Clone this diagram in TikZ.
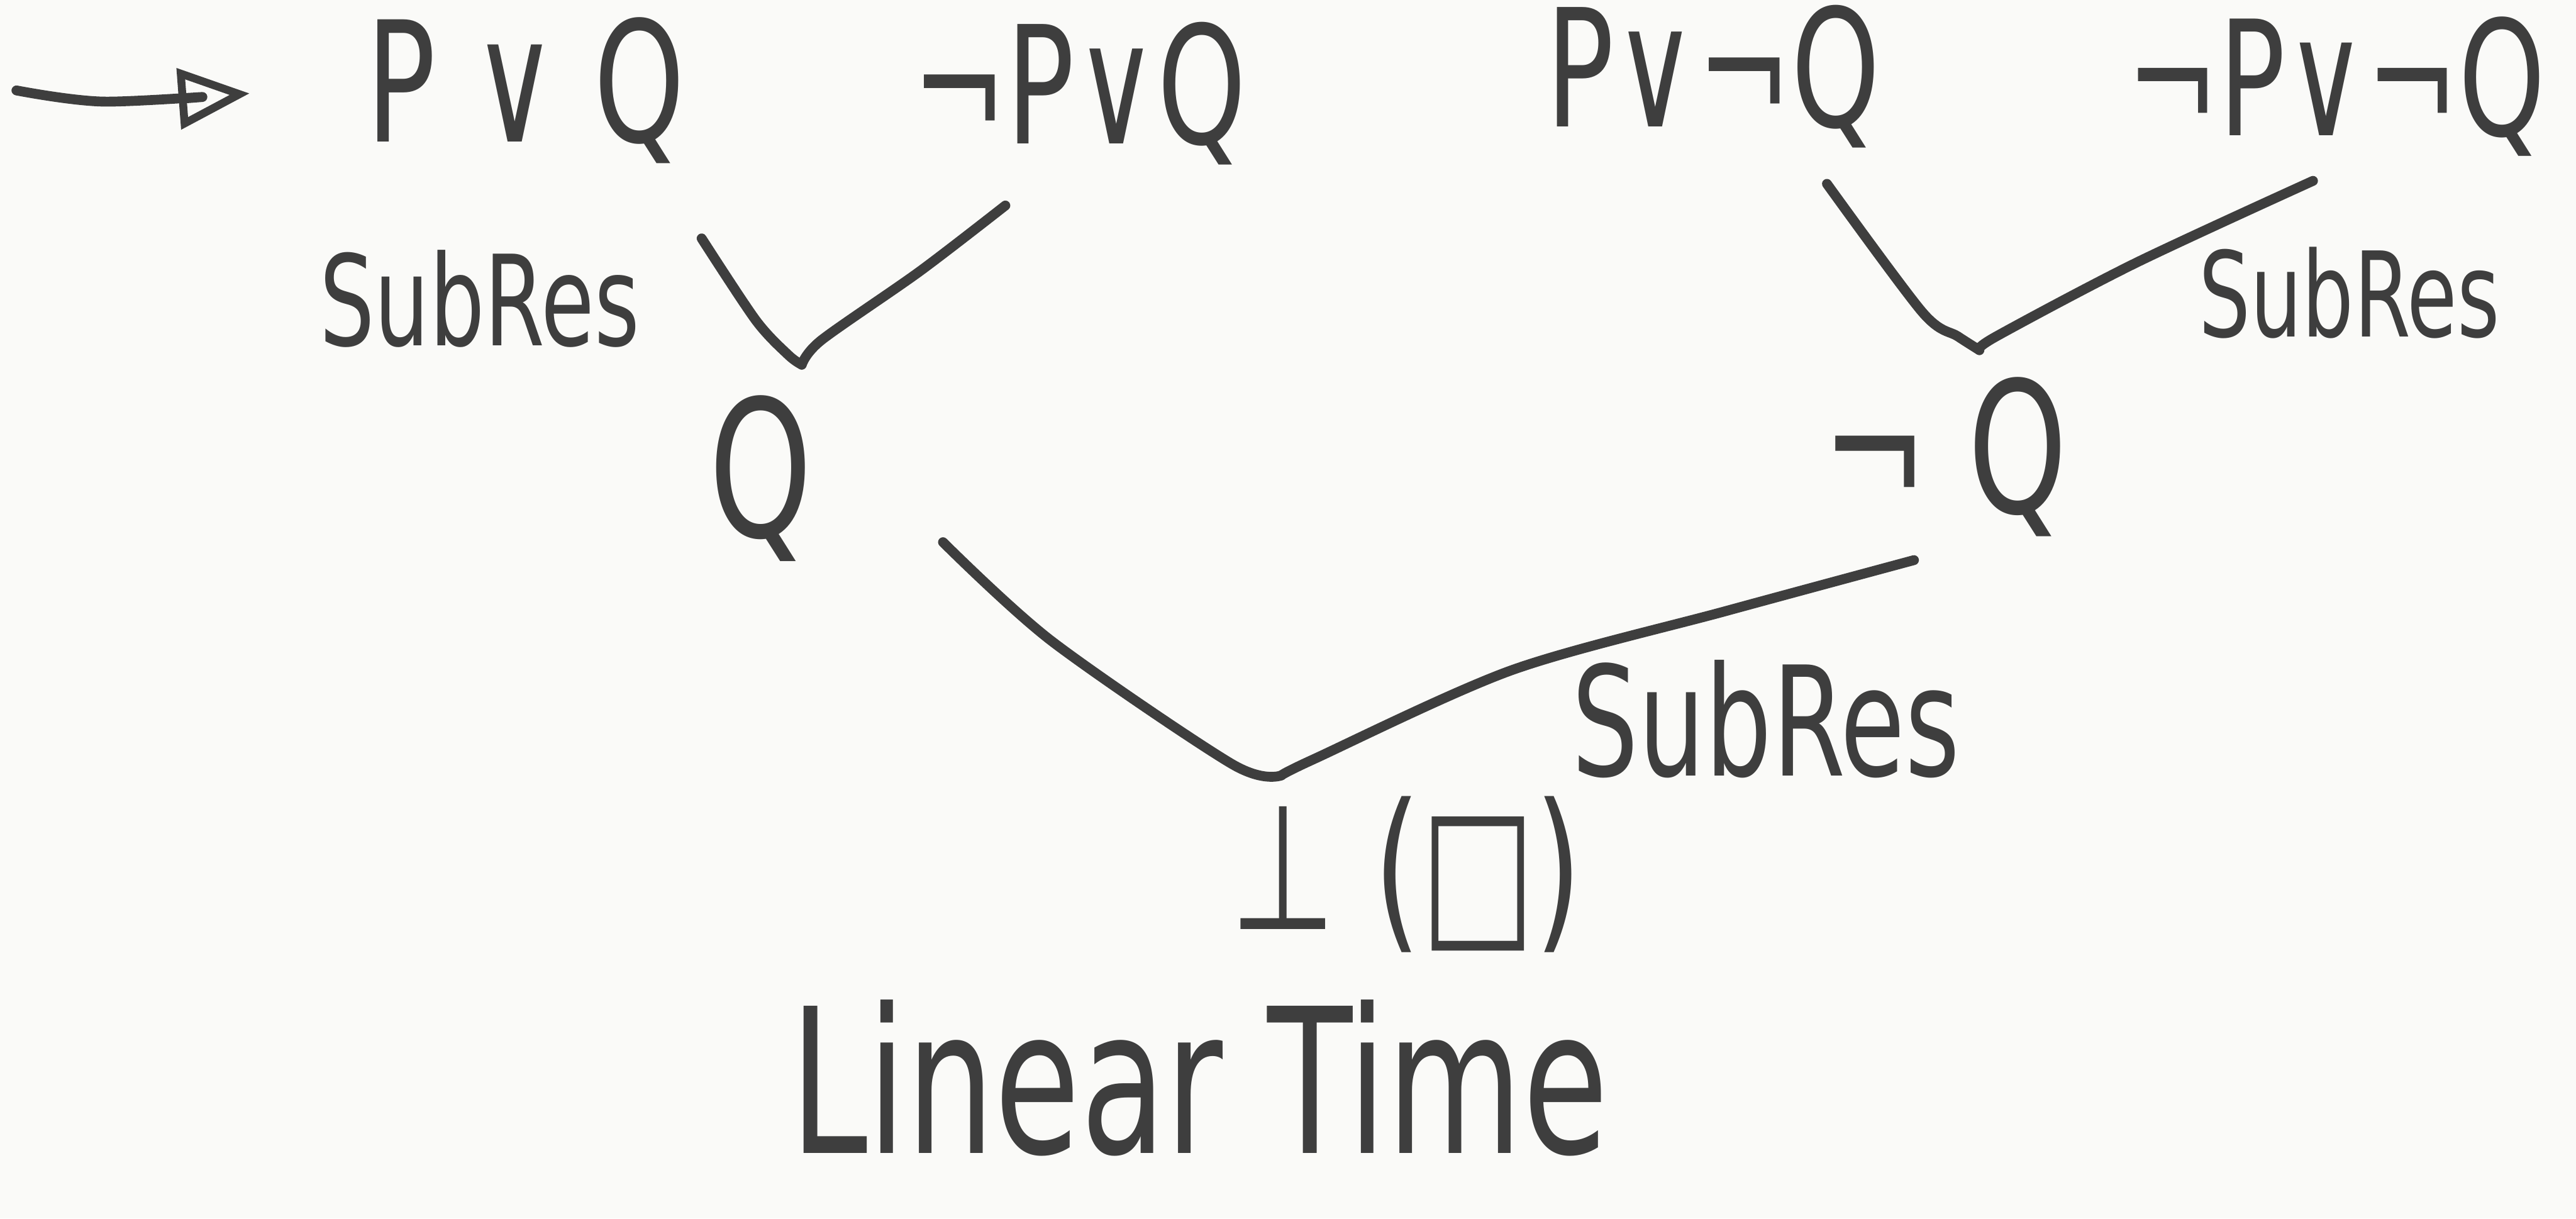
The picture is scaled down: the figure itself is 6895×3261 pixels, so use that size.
\documentclass[tikz,border=0pt]{standalone}
\usepackage{fontspec}
\setmainfont{DejaVu Sans}
\usepackage{graphicx}
\usetikzlibrary{arrows.meta}
\definecolor{ink}{RGB}{62,62,62}
\definecolor{paper}{RGB}{250,250,248}
\newcommand{\hw}[2]{\fontsize{#1}{#1}\selectfont\scalebox{1}[1.45]{#2}}
\tikzset{
  lbl/.style={inner sep=0pt, text=ink, anchor=center},
  edge/.style={draw=ink, line width=7.5pt, line cap=round, line join=round},
}
\begin{document}
\begin{tikzpicture}[x=0.01cm, y=-0.01cm]
  \fill[paper] (0,0) rectangle (6895,3261);
  \useasboundingbox (0,0) rectangle (6895,3261);

  % clauses
  \node[lbl] (pq)   at (1407,242)  {\hw{88}{P ∨ Q}};
  \node[lbl] (npq)  at (2889,250)  {\hw{86}{¬P∨Q}};
  \node[lbl] (pnq)  at (4586,205)  {\hw{86}{P∨¬Q}};
  \node[lbl] (npnq) at (6253,232)  {\hw{84}{¬P∨¬Q}};
  \node[lbl] (q)    at (2036,1280) {\hw{100}{Q}};
  \node[lbl] (nq)   at (5206,1222) {\hw{96}{¬ Q}};
  \node[lbl] (bot)  at (3764,2340) {\hw{92}{⊥ (□)}};

  % rule labels
  \node[lbl] (sr1) at (1284,800)  {\hw{66}{SubRes}};
  \node[lbl] (sr2) at (6288,783)  {\hw{62}{SubRes}};
  \node[lbl] (sr3) at (4727,1925) {\hw{80}{SubRes}};

  % caption
  \node[lbl] (lt) at (3210,2885) {\hw{106}{Linear Time}};

  % entry arrow
  \coordinate (arrs) at (44,242);
  \coordinate (arre) at (668,250);
  \draw[edge, -{Triangle[open, length=1.9cm, width=1.6cm, line width=6pt]}]
    plot[smooth] coordinates {(arrs) (280,272) (arre)};

  % left resolution step
  \coordinate (l1a) at (1878,638);
  \coordinate (l1v) at (2146,976);
  \coordinate (l1b) at (2691,550);
  \draw[edge] plot[smooth] coordinates {(l1a) (2023,857) (2110,950) (l1v)};
  \draw[edge] plot[smooth] coordinates {(l1v) (2199,910) (2462,726) (l1b)};

  % right resolution step
  \coordinate (r1a) at (4890,492);
  \coordinate (r1v) at (5298,937);
  \coordinate (r1b) at (6191,484);
  \draw[edge] plot[smooth] coordinates {(r1a) (5145,835) (5240,900) (r1v)};
  \draw[edge] plot[smooth] coordinates {(r1v) (5342,901) (5716,704) (r1b)};

  % bottom resolution step
  \coordinate (b1a) at (2524,1451);
  \coordinate (b1v) at (3430,2075);
  \coordinate (b1b) at (5123,1499);
  \draw[edge] plot[smooth] coordinates {(b1a) (2814,1715) (3298,2045) (b1v)};
  \draw[edge] plot[smooth] coordinates {(b1v) (3518,2031) (4045,1794) (4617,1636) (b1b)};
\end{tikzpicture}
\end{document}
